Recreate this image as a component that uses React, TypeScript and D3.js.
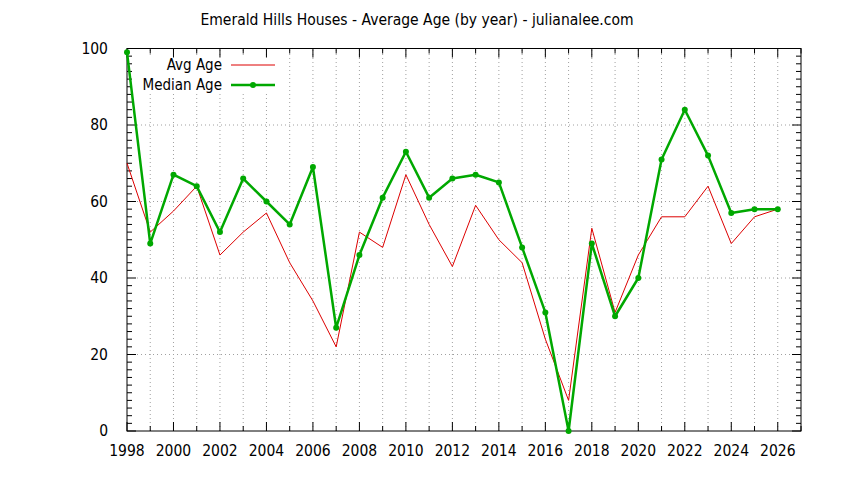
import { useEffect, useRef } from "react";
import * as d3 from "d3";

const width = 844;
const height = 480;

const margin = {
  top: 48.5,
  right: 43,
  bottom: 49,
  left: 127,
};

const years = [
  1998, 1999, 2000, 2001, 2002, 2003, 2004, 2005, 2006, 2007, 2008, 2009, 2010,
  2011, 2012, 2013, 2014, 2015, 2016, 2017, 2018, 2019, 2020, 2021, 2022, 2023,
  2024, 2025, 2026,
];

const avgAge = [
  70, 52, 57.5, 64, 46, 52, 57, 44, 34, 22, 52, 48, 67, 54, 43, 59, 50, 44, 24,
  8, 53, 31, 46, 56, 56, 64, 49, 56, 58,
];

const medianAge = [
  99, 49, 67, 64, 52, 66, 60, 54, 69, 27, 46, 61, 73, 61, 66, 67, 65, 48, 31, 0,
  49, 30, 40, 71, 84, 72, 57, 58, 58,
];

const xTicks = [
  1998, 2000, 2002, 2004, 2006, 2008, 2010, 2012, 2014, 2016, 2018, 2020, 2022,
  2024, 2026,
];
const yTicks = [0, 20, 40, 60, 80, 100];

const title = "Emerald Hills Houses - Average Age (by year) - julianalee.com";
const seriesNames = ["Avg Age", "Median Age"];

const font = "'DejaVu Sans Condensed', 'DejaVu Sans', sans-serif";
const fontSize = "15.5px";
const legendFontSize = "15px";
const red = "#dd0000";
const green = "#00a800";
const gridColor = "#a0a0a0";

export default function App() {
  const svgRef = useRef<SVGSVGElement | null>(null);

  useEffect(() => {
    if (!svgRef.current) return;
    const svg = d3.select(svgRef.current);

    const x = d3
      .scaleLinear()
      .domain([1998, 2027])
      .range([margin.left, width - margin.right]);
    const y = d3
      .scaleLinear()
      .domain([0, 100])
      .range([height - margin.bottom, margin.top]);

    const x0 = margin.left;
    const x1 = width - margin.right;
    const y0 = height - margin.bottom;
    const y1 = margin.top;

    const minorX = d3.range(1998, 2028, 1);
    const minorY = d3.range(0, 101, 2);

    // grid
    const grid = svg.select<SVGGElement>(".grid");
    grid
      .selectAll(".vgrid")
      .data(minorX.filter((d) => d > 1998 && d < 2027))
      .join("line")
      .attr("class", "vgrid")
      .attr("x1", (d) => x(d))
      .attr("x2", (d) => x(d))
      .attr("y1", y0)
      .attr("y2", y1)
      .attr("stroke", gridColor)
      .attr("stroke-width", 1)
      .attr("stroke-dasharray", "1,3");
    grid
      .selectAll(".hgrid")
      .data(yTicks.filter((d) => d > 0 && d < 100))
      .join("line")
      .attr("class", "hgrid")
      .attr("x1", x0 + 10)
      .attr("x2", x1)
      .attr("y1", (d) => y(d))
      .attr("y2", (d) => y(d))
      .attr("stroke", gridColor)
      .attr("stroke-width", 1)
      .attr("stroke-dasharray", "1,3");

    // ticks on all four sides
    const ticks = svg.select<SVGGElement>(".ticks");
    const isMajorX = (d: number) => xTicks.includes(d);
    const isMajorY = (d: number) => yTicks.includes(d);
    ticks
      .selectAll(".xt-bottom")
      .data(minorX)
      .join("line")
      .attr("class", "xt-bottom")
      .attr("x1", (d) => x(d))
      .attr("x2", (d) => x(d))
      .attr("y1", y0)
      .attr("y2", (d) => y0 - (isMajorX(d) ? 9 : 5))
      .attr("stroke", "#000");
    ticks
      .selectAll(".xt-top")
      .data(minorX)
      .join("line")
      .attr("class", "xt-top")
      .attr("x1", (d) => x(d))
      .attr("x2", (d) => x(d))
      .attr("y1", y1)
      .attr("y2", (d) => y1 + (isMajorX(d) ? 9 : 5))
      .attr("stroke", "#000");
    ticks
      .selectAll(".yt-left")
      .data(minorY)
      .join("line")
      .attr("class", "yt-left")
      .attr("x1", x0)
      .attr("x2", (d) => x0 + (isMajorY(d) ? 9 : 5))
      .attr("y1", (d) => y(d))
      .attr("y2", (d) => y(d))
      .attr("stroke", "#000");
    ticks
      .selectAll(".yt-right")
      .data(minorY)
      .join("line")
      .attr("class", "yt-right")
      .attr("x1", x1)
      .attr("x2", (d) => x1 - (isMajorY(d) ? 9 : 5))
      .attr("y1", (d) => y(d))
      .attr("y2", (d) => y(d))
      .attr("stroke", "#000");

    // tick labels
    svg
      .select<SVGGElement>(".x-labels")
      .selectAll("text")
      .data(xTicks)
      .join("text")
      .attr("x", (d) => x(d))
      .attr("y", y0 + 20)
      .attr("dy", "0.35em")
      .attr("text-anchor", "middle")
      .style("font-family", font)
      .style("font-size", fontSize)
      .text((d) => String(d));
    svg
      .select<SVGGElement>(".y-labels")
      .selectAll("text")
      .data(yTicks)
      .join("text")
      .attr("x", x0 - 19)
      .attr("y", (d) => y(d))
      .attr("dy", "0.35em")
      .attr("text-anchor", "end")
      .style("font-family", font)
      .style("font-size", fontSize)
      .text((d) => String(d));

    // legend
    const legend = svg.select<SVGGElement>(".legend");
    legend
      .selectAll("rect")
      .data([0])
      .join("rect")
      .attr("x", 136)
      .attr("y", 57)
      .attr("width", 146)
      .attr("height", 37)
      .attr("fill", "#fff");
    legend
      .selectAll("text")
      .data(seriesNames)
      .join("text")
      .attr("x", 222)
      .attr("y", (_, i) => 65 + i * 20)
      .attr("dy", "0.35em")
      .attr("text-anchor", "end")
      .style("font-family", font)
      .style("font-size", legendFontSize)
      .text((d) => d);
    legend
      .selectAll("line")
      .data(seriesNames)
      .join("line")
      .attr("x1", 231)
      .attr("x2", 275)
      .attr("y1", (_, i) => 65 + i * 20)
      .attr("y2", (_, i) => 65 + i * 20)
      .attr("stroke", (_, i) => (i === 0 ? red : green))
      .attr("stroke-width", (_, i) => (i === 0 ? 1 : 2.5));
    legend
      .selectAll("circle")
      .data([1])
      .join("circle")
      .attr("cx", 253)
      .attr("cy", (i) => 65 + i * 20)
      .attr("r", 3)
      .attr("fill", green);

    // lines
    const line = d3
      .line<number>()
      .x((_, i) => x(years[i]))
      .y((d) => y(d));

    svg
      .select<SVGPathElement>(".avg-line")
      .attr("d", line(avgAge))
      .attr("fill", "none")
      .attr("stroke", red)
      .attr("stroke-width", 1)
      .attr("stroke-linejoin", "miter");
    svg
      .select<SVGPathElement>(".median-line")
      .attr("d", line(medianAge))
      .attr("fill", "none")
      .attr("stroke", green)
      .attr("stroke-width", 2.5)
      .attr("stroke-linejoin", "round");
    svg
      .select<SVGGElement>(".median-points")
      .selectAll("circle")
      .data(medianAge)
      .join("circle")
      .attr("cx", (_, i) => x(years[i]))
      .attr("cy", (d) => y(d))
      .attr("r", 3)
      .attr("fill", green);

    // frame
    svg
      .select<SVGRectElement>(".frame")
      .attr("x", x0)
      .attr("y", y1)
      .attr("width", x1 - x0)
      .attr("height", y0 - y1)
      .attr("fill", "none")
      .attr("stroke", "#000")
      .attr("stroke-width", 1);

    svg
      .select<SVGTextElement>(".title")
      .attr("x", 417)
      .attr("y", 20)
      .attr("dy", "0.35em")
      .attr("text-anchor", "middle")
      .style("font-family", font)
      .style("font-size", fontSize)
      .text(title);
  }, []);

  return (
    <svg
      ref={svgRef}
      width={width}
      height={height}
      viewBox={`0 0 ${width} ${height}`}
      style={{ position: "absolute", left: 0, top: 0, background: "#fff" }}
    >
      <g className="grid" />
      <g className="legend" />
      <g className="ticks" />
      <rect className="frame" />
      <g className="x-labels" />
      <g className="y-labels" />
      <path className="avg-line" />
      <path className="median-line" />
      <g className="median-points" />
      <text className="title" />
    </svg>
  );
}
